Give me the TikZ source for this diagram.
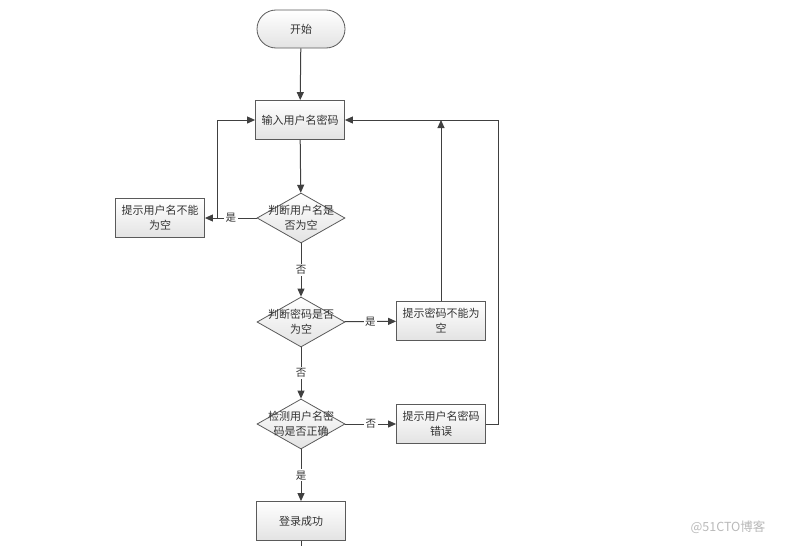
\documentclass[tikz,border=0pt]{standalone}
\usepackage{fontspec}
\newfontfamily\cjk{Noto Sans CJK SC}
\usetikzlibrary{shapes.geometric, arrows.meta}
\definecolor{linegray}{HTML}{404040}
\definecolor{boxgray}{HTML}{5A5A5A}
\tikzset{
>={Triangle[length=8pt,width=7pt]}, % filled arrow heads
every node/.style={font=\cjk\fontsize{11}{15}\selectfont, text=black!80},
proc/.style={draw=boxgray, line width=0.8pt, rectangle, minimum width=89pt, minimum height=39pt, top color=white, bottom color=gray!22, align=center, inner sep=1pt},
term/.style={proc, rounded corners=19pt, minimum width=88pt, minimum height=38pt},
decision/.style={draw=boxgray, line width=0.8pt, diamond, inner sep=0pt, minimum width=88pt, minimum height=50pt, top color=white, bottom color=gray!22},
dtext/.style={align=center, inner sep=0pt},
flow/.style={->, draw=linegray, line width=1pt},
lab/.style={fill=white, inner sep=1.5pt, font=\cjk\fontsize{10.5}{12}\selectfont},
}
\begin{document}
\begin{tikzpicture}[x=1pt, y=-1pt]
    \useasboundingbox (0,0) rectangle (787,546);
    \node[term] at (301,29) (start) {开始};
    \node[proc] at (300,120) (input) {输入用户名密码};
    \node[decision] at (301,218) (d1) {};
    \node[dtext] at (d1) (d1t) {判断用户名是\\否为空};
    \node[proc] at (160,218) (b1) {提示用户名不能\\为空};
    \node[decision] at (301,322) (d2) {};
    \node[dtext] at (d2) (d2t) {判断密码是否\\为空};
    \node[proc] at (441,321) (b2) {提示密码不能为\\空};
    \node[decision] at (301,424) (d3) {};
    \node[dtext] at (d3) (d3t) {检测用户名密\\码是否正确};
    \node[proc] at (441,424) (b3) {提示用户名密码\\错误};
    \node[proc] at (301,521) (b4) {登录成功};
    \coordinate (j1) at ([xshift=13pt]b1.east);
    \coordinate (j2) at ([xshift=13pt]b3.east);
    \coordinate (endpt) at (301,546);
    \node[font=\cjk\fontsize{12.5}{14}\selectfont, text=gray!55] at (728,527) (mark) {@51CTO博客};
    \draw[flow] (start) -- (input);
    \draw[flow] (input) -- (d1);
    \draw[flow] (d1) -- node[lab]{是} (b1);
    \draw[flow] (j1) |- (input.west);
    \draw[flow] (d1) -- node[lab]{否} (d2);
    \draw[flow] (d2) -- node[lab]{是} (b2);
    \draw[flow] (b2) -- (b2 |- input);
    \draw[flow] (d2) -- node[lab]{否} (d3);
    \draw[flow] (d3) -- node[lab]{否} (b3);
    \draw[flow] (b3.east) -- (j2) |- (input.east);
    \draw[flow] (d3) -- node[lab]{是} (b4);
    \draw[draw=linegray, line width=1pt] (b4) -- (endpt);
\end{tikzpicture}
\end{document}
